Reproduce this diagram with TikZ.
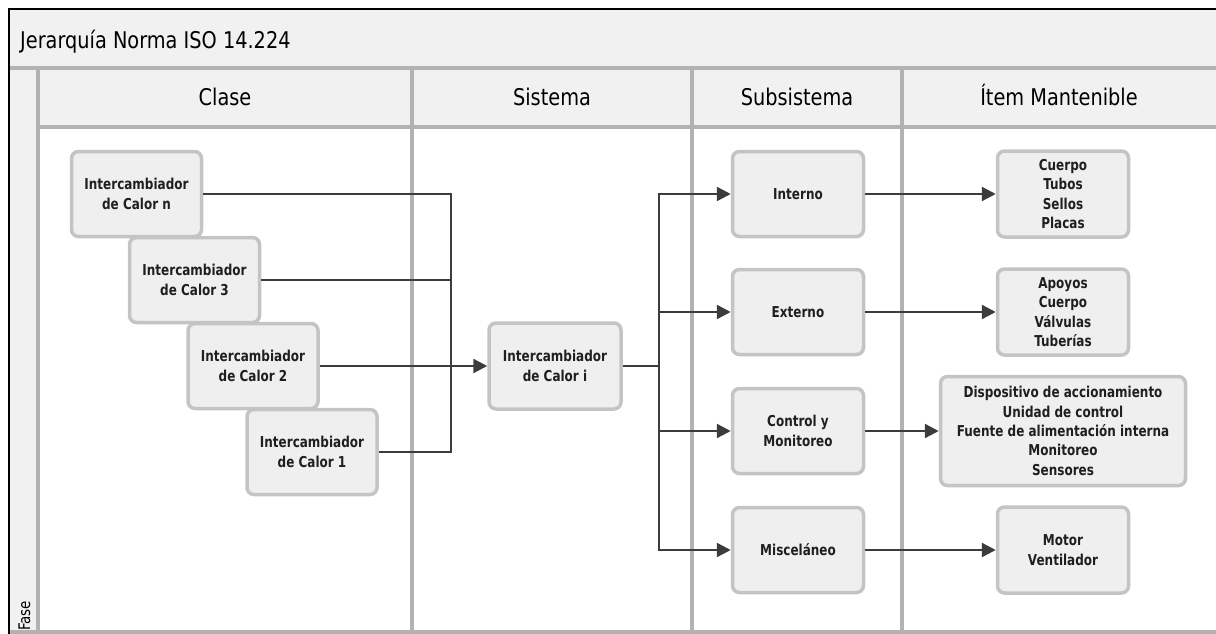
\documentclass[tikz,border=0pt]{standalone}
\usepackage{fontspec}
\setmainfont{DejaVu Sans}
\newfontfamily\boxfam{DejaVu Sans}[FakeStretch=0.8]
\newfontfamily\hdrfam{DejaVu Sans}[FakeStretch=0.84]
\usetikzlibrary{arrows.meta}
\definecolor{bandfill}{HTML}{F1F1F1}
\definecolor{laneline}{HTML}{B2B2B2}
\definecolor{boxfill}{HTML}{EFEFEF}
\definecolor{boxline}{HTML}{C4C4C4}
\definecolor{conncol}{HTML}{3C3C3C}
\newcommand\boxfont{\boxfam\bfseries\fontsize{15}{19.3}\selectfont}
\newcommand\hdrfont{\hdrfam\fontsize{23}{26}\selectfont}
\begin{document}
\begin{tikzpicture}[x=1pt,y=-1pt,
  box/.style={draw=boxline, line width=3.5pt, fill=boxfill, rounded corners=7pt,
    align=center, inner sep=2pt, font=\boxfont, text=black!88},
  conn/.style={draw=conncol, line width=2.4pt},
  arr/.style={conn, -{Triangle[length=14pt,width=14pt]}},
  hdr/.style={font=\hdrfont, text=black, inner sep=0pt},
  lane/.style={draw=laneline, line width=3.5pt},
]
\useasboundingbox (0,0) rectangle (1216,634);
% bands
\fill[bandfill] (9,9) rectangle (1216,68);
\fill[bandfill] (38,68) rectangle (1216,127);
\fill[bandfill] (9,68) rectangle (38,634);
% lane lines
\draw[lane] (9,68) -- (1216,68);
\draw[lane] (38,127) -- (1216,127);
\draw[lane] (9,632) -- (1216,632);
\draw[lane] (38,68) -- (38,634);
\draw[lane] (412,68) -- (412,634);
\draw[lane] (692,68) -- (692,634);
\draw[lane] (902,68) -- (902,634);
% outer frame
\draw[black, line width=2.5pt] (9,634) -- (9,9) -- (1216,9);
% texts
\node[hdr, anchor=base west] (title) at (20,49) {Jerarquía Norma ISO 14.224};
\node[hdr, anchor=base] (hclase) at (225,106) {Clase};
\node[hdr, anchor=base] (hsis) at (552,106) {Sistema};
\node[hdr, anchor=base] (hsub) at (797,106) {Subsistema};
\node[hdr, anchor=base] (hitem) at (1059,106) {Ítem Mantenible};
\node[font=\hdrfam\fontsize{16}{18}\selectfont, rotate=90, anchor=west, inner sep=0pt] (fase) at (24.5,631) {Fase};
% class boxes
\node[box, minimum width=130pt, minimum height=85pt] (cn) at (136.5,194) {Intercambiador\\de Calor n};
\node[box, minimum width=130pt, minimum height=85pt] (c3) at (194.5,280) {Intercambiador\\de Calor 3};
\node[box, minimum width=130pt, minimum height=85pt] (c2) at (253,366) {Intercambiador\\de Calor 2};
\node[box, minimum width=130pt, minimum height=85pt] (c1) at (312,452) {Intercambiador\\de Calor 1};
% system
\node[box, minimum width=132pt, minimum height=86pt] (si) at (555,366) {Intercambiador\\de Calor i};
% subsystems
\node[box, minimum width=131pt, minimum height=85pt] (int) at (798,194) {Interno};
\node[box, minimum width=131pt, minimum height=85pt] (ext) at (798,312) {Externo};
\node[box, minimum width=131pt, minimum height=85pt] (ctl) at (798,431) {Control y\\Monitoreo};
\node[box, minimum width=131pt, minimum height=85pt] (mis) at (798,550) {Misceláneo};
% items
\node[box, minimum width=131pt, minimum height=86pt] (icu) at (1063,194) {Cuerpo\\Tubos\\Sellos\\Placas};
\node[box, minimum width=131pt, minimum height=86pt] (iap) at (1063,312) {Apoyos\\Cuerpo\\Válvulas\\Tuberías};
\node[box, minimum width=245pt, minimum height=109pt] (idi) at (1063,431) {Dispositivo de accionamiento\\Unidad de control\\Fuente de alimentación interna\\Monitoreo\\Sensores};
\node[box, minimum width=131pt, minimum height=86pt] (imo) at (1063,550) {Motor\\Ventilador};
% connectors
\coordinate (jc) at (451,366);
\coordinate (js) at (659,366);
\draw[conn] (cn.east) -| (jc);
\draw[conn] (c1.east) -| (jc);
\draw[conn] (c3.east) -- (c3.east -| jc);
\draw[arr] (c2.east) -- (si.west);
\draw[conn] (si.east) -- (js);
\draw[arr] (js) |- (int.west);
\draw[arr] (js) |- (ext.west);
\draw[arr] (js) |- (ctl.west);
\draw[arr] (js) |- (mis.west);
\draw[arr] (int.east) -- (icu.west);
\draw[arr] (ext.east) -- (iap.west);
\draw[arr] (ctl.east) -- (idi.west);
\draw[arr] (mis.east) -- (imo.west);
\end{tikzpicture}
\end{document}
